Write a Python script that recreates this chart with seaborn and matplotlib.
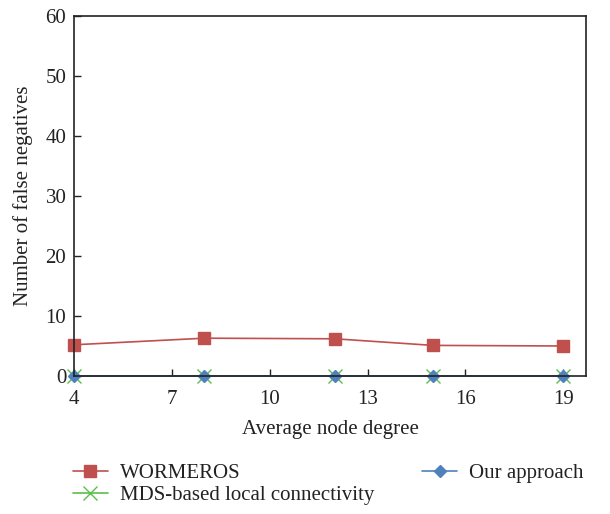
import matplotlib
matplotlib.use("Agg")
import matplotlib.pyplot as plt
import seaborn as sns
import pandas as pd

sns.set_theme(style="ticks")
plt.rcParams["font.family"] = ["Liberation Serif", "DejaVu Serif"]
plt.rcParams["xtick.direction"] = "in"
plt.rcParams["ytick.direction"] = "in"

degree = [4, 8, 12, 15, 19]
wormeros = [5.2, 6.3, 6.2, 5.1, 5.0]
mds = [0, 0, 0, 0, 0]
ours = [0, 0, 0, 0, 0]

series = [
    ("WORMEROS", wormeros, "#c0504d", "s", 9),
    ("MDS-based local connectivity", mds, "#5cbf4a", "x", 10),
    ("Our approach", ours, "#4f81bd", "D", 6),
]

fig = plt.figure(figsize=(6.1, 5.14), dpi=100)
ax = fig.add_axes([0.1213, 0.2685, 0.8394, 0.7004])

handles = []
for name, vals, color, marker, ms in series:
    df = pd.DataFrame({"x": degree, "y": vals})
    sns.lineplot(data=df, x="x", y="y", ax=ax, color=color, marker=marker,
                 markersize=ms, markeredgecolor=color, markeredgewidth=1.0,
                 linewidth=1.2, label=name, legend=False, clip_on=False)
    handles.append(ax.lines[-1])

ax.set_xlim(4, 19.7)
ax.set_ylim(0, 60)
ax.set_xticks([4, 7, 10, 13, 16, 19])
ax.set_yticks(range(0, 61, 10))
ax.tick_params(axis="both", direction="in", length=5, width=1,
               colors="#222222", labelsize=15)
ax.tick_params(axis="y", pad=5.5)
ax.tick_params(axis="x", pad=10)
for s in ax.spines.values():
    s.set_color("#222222")
    s.set_linewidth(1.2)
ax.set_xlabel("Average node degree", fontsize=15, color="#222222", labelpad=8)
ax.set_ylabel("Number of false negatives", fontsize=15, color="#222222",
              labelpad=9)

fig.legend(handles=handles, labels=[s[0] for s in series], ncol=2,
           loc="upper left", bbox_to_anchor=(0.12, 0.098), frameon=False,
           fontsize=15, handlelength=1.65, columnspacing=2.3,
           labelspacing=0.1, handletextpad=0.6, labelcolor="#222222",
           borderaxespad=0, borderpad=0)

fig.savefig("out.png", dpi=100)
